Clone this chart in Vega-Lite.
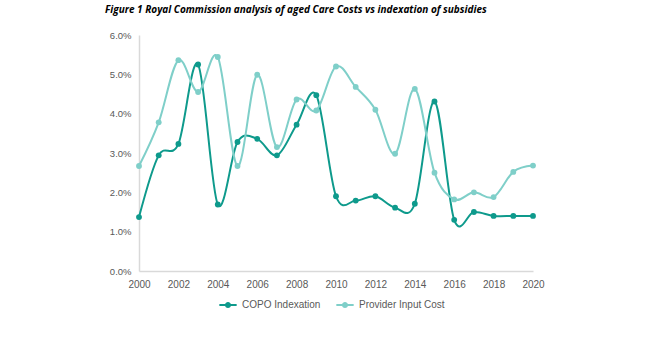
{
  "$schema": "https://vega.github.io/schema/vega-lite/v6.json",
  "width": 394,
  "height": 236,
  "autosize": {"type": "none"},
  "padding": {"left": 139, "top": 35, "right": 125, "bottom": 66},
  "background": "white",
  "title": {
    "text": "Figure 1 Royal Commission analysis of aged Care Costs vs indexation of subsidies",
    "anchor": "start",
    "frame": "group",
    "dx": -34,
    "offset": 15,
    "font": "Open Sans",
    "fontSize": 10,
    "fontStyle": "italic",
    "fontWeight": "bold",
    "color": "#000000"
  },
  "data": {
    "values": [
      {"year": 2000, "series": "COPO Indexation", "value": 0.0137},
      {"year": 2001, "series": "COPO Indexation", "value": 0.0294},
      {"year": 2002, "series": "COPO Indexation", "value": 0.0323},
      {"year": 2003, "series": "COPO Indexation", "value": 0.0525},
      {"year": 2004, "series": "COPO Indexation", "value": 0.0169},
      {"year": 2005, "series": "COPO Indexation", "value": 0.0328},
      {"year": 2006, "series": "COPO Indexation", "value": 0.0336},
      {"year": 2007, "series": "COPO Indexation", "value": 0.0294},
      {"year": 2008, "series": "COPO Indexation", "value": 0.0372},
      {"year": 2009, "series": "COPO Indexation", "value": 0.0447},
      {"year": 2010, "series": "COPO Indexation", "value": 0.019},
      {"year": 2011, "series": "COPO Indexation", "value": 0.0179},
      {"year": 2012, "series": "COPO Indexation", "value": 0.019},
      {"year": 2013, "series": "COPO Indexation", "value": 0.0161},
      {"year": 2014, "series": "COPO Indexation", "value": 0.0171},
      {"year": 2015, "series": "COPO Indexation", "value": 0.0431},
      {"year": 2016, "series": "COPO Indexation", "value": 0.013},
      {"year": 2017, "series": "COPO Indexation", "value": 0.015},
      {"year": 2018, "series": "COPO Indexation", "value": 0.014},
      {"year": 2019, "series": "COPO Indexation", "value": 0.014},
      {"year": 2020, "series": "COPO Indexation", "value": 0.014},
      {"year": 2000, "series": "Provider Input Cost", "value": 0.0267},
      {"year": 2001, "series": "Provider Input Cost", "value": 0.0378},
      {"year": 2002, "series": "Provider Input Cost", "value": 0.0536},
      {"year": 2003, "series": "Provider Input Cost", "value": 0.0455},
      {"year": 2004, "series": "Provider Input Cost", "value": 0.0544},
      {"year": 2005, "series": "Provider Input Cost", "value": 0.0267},
      {"year": 2006, "series": "Provider Input Cost", "value": 0.0499},
      {"year": 2007, "series": "Provider Input Cost", "value": 0.0315},
      {"year": 2008, "series": "Provider Input Cost", "value": 0.0436},
      {"year": 2009, "series": "Provider Input Cost", "value": 0.0408},
      {"year": 2010, "series": "Provider Input Cost", "value": 0.052},
      {"year": 2011, "series": "Provider Input Cost", "value": 0.0468},
      {"year": 2012, "series": "Provider Input Cost", "value": 0.041},
      {"year": 2013, "series": "Provider Input Cost", "value": 0.0298},
      {"year": 2014, "series": "Provider Input Cost", "value": 0.0463},
      {"year": 2015, "series": "Provider Input Cost", "value": 0.025},
      {"year": 2016, "series": "Provider Input Cost", "value": 0.0182},
      {"year": 2017, "series": "Provider Input Cost", "value": 0.02},
      {"year": 2018, "series": "Provider Input Cost", "value": 0.0188},
      {"year": 2019, "series": "Provider Input Cost", "value": 0.0252},
      {"year": 2020, "series": "Provider Input Cost", "value": 0.0268}
    ]
  },
  "mark": {
    "type": "line",
    "interpolate": "cardinal",
    "strokeWidth": 2,
    "point": {"filled": true, "size": 34}
  },
  "encoding": {
    "x": {
      "field": "year",
      "type": "quantitative",
      "scale": {"domain": [2000, 2020], "nice": false, "zero": false},
      "axis": {
        "title": null,
        "values": [2000, 2002, 2004, 2006, 2008, 2010, 2012, 2014, 2016, 2018, 2020],
        "format": "d",
        "grid": false,
        "ticks": false,
        "labelFlush": false,
        "labelOverlap": false,
        "labelBound": false,
        "domainColor": "#d9d9d9",
        "domainWidth": 1.5,
        "labelColor": "#595959",
        "labelFont": "Liberation Sans",
        "labelFontSize": 10,
        "labelPadding": 8
      }
    },
    "y": {
      "field": "value",
      "type": "quantitative",
      "scale": {"domain": [0, 0.06], "nice": false},
      "axis": {
        "title": null,
        "values": [0, 0.01, 0.02, 0.03, 0.04, 0.05, 0.06],
        "format": ".1%",
        "grid": false,
        "ticks": false,
        "labelFlush": false,
        "labelOverlap": false,
        "domainColor": "#d9d9d9",
        "domainWidth": 1.5,
        "labelColor": "#595959",
        "labelFont": "Liberation Sans",
        "labelFontSize": 9.5,
        "labelPadding": 8
      }
    },
    "color": {
      "field": "series",
      "type": "nominal",
      "scale": {
        "domain": ["COPO Indexation", "Provider Input Cost"],
        "range": ["#0e9a8c", "#7fcfc9"]
      },
      "legend": {
        "title": null,
        "orient": "none",
        "direction": "horizontal",
        "legendX": 80,
        "legendY": 261,
        "labelFont": "Liberation Sans",
        "labelFontSize": 10,
        "labelColor": "#595959",
        "symbolType": "M-1,-0.12L1,-0.12L1,0.12L-1,0.12Z M-0.35,0A0.35,0.35 0 1,1 0.35,0A0.35,0.35 0 1,1 -0.35,0Z",
        "symbolSize": 300,
        "symbolStrokeWidth": 0,
        "columnPadding": 15,
        "labelOffset": 5,
        "encode": {
          "symbols": {
            "update": {
              "fill": {"scale": "color", "field": "value"},
              "fillOpacity": {"value": 1}
            }
          }
        }
      }
    }
  },
  "config": {"view": {"stroke": null}}
}
